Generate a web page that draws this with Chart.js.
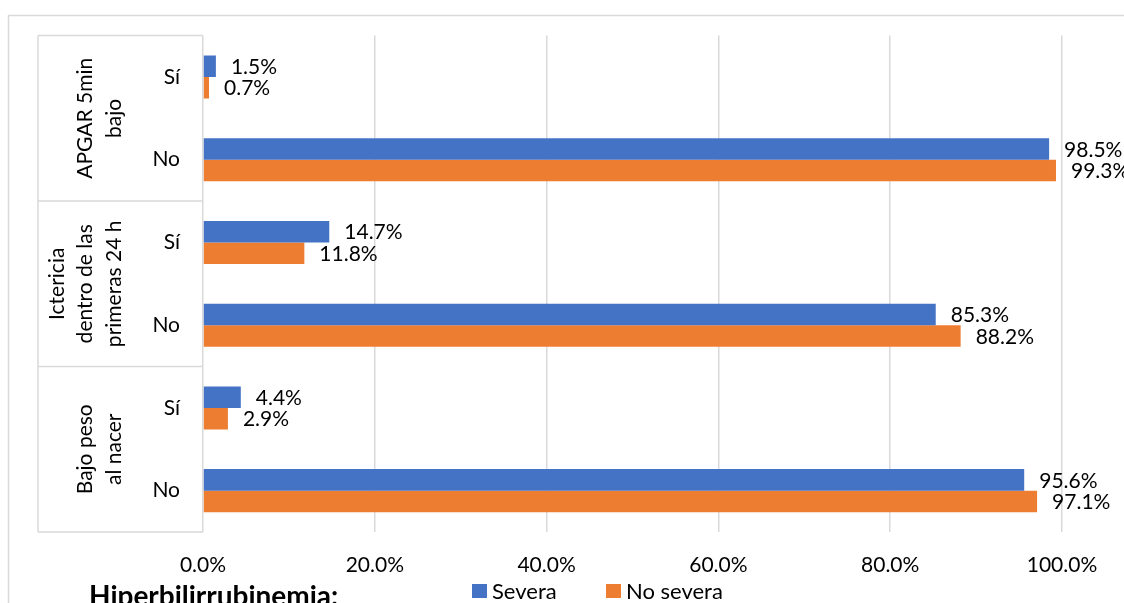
<!DOCTYPE html>
<html lang="es">
<head>
<meta charset="utf-8">
<title>Hiperbilirrubinemia</title>
<script src="https://cdn.jsdelivr.net/npm/chart.js@4/dist/chart.umd.min.js"></script>
<style>
  html, body { margin: 0; padding: 0; background: #ffffff; }
  #wrap { width: 1124px; height: 603px; position: relative; }
</style>
</head>
<body>
<div id="wrap"><canvas id="c" width="1124" height="603"></canvas></div>
<script>
// Sub-categories, top to bottom
const subLabels = ['Sí', 'No', 'Sí', 'No', 'Sí', 'No'];
// Group labels (one entry per pair of sub-categories), split into lines
const groupLines = [
  ['APGAR 5min', 'bajo'],
  ['Ictericia', 'dentro de las', 'primeras 24 h'],
  ['Bajo peso', 'al nacer']
];
// Percentages per series
const severa   = [1.5, 98.5, 14.7, 85.3, 4.4, 95.6];
const noSevera = [0.7, 99.3, 11.8, 88.2, 2.9, 97.1];
const seriesNames = ['Severa', 'No severa'];
const legendTitle = 'Hiperbilirrubinemia:';
const xTicks = [0, 20, 40, 60, 80, 100];

const BLUE = '#4472C4';
const ORANGE = '#ED7D31';
const GRID = '#d9d9d9';
const FONT = 'Lato, "Open Sans", sans-serif';
const FS = 21;

const pct = v => v.toFixed(1) + '%';

// Frame, grouped category box, value labels, legend
const decor = {
  id: 'decor',
  beforeDraw(chart) {
    const ctx = chart.ctx;
    ctx.save();
    ctx.fillStyle = '#ffffff';
    ctx.fillRect(0, 0, chart.width, chart.height);
    ctx.strokeStyle = GRID;
    ctx.lineWidth = 1.5;
    ctx.strokeRect(8.5, 15.5, chart.width + 20, chart.height + 20);
    ctx.restore();
  },
  afterDraw(chart) {
    const ctx = chart.ctx;
    const ys = chart.scales.y;
    const area = chart.chartArea;
    const boxLeft = 38;
    ctx.save();
    // category box lines
    ctx.strokeStyle = GRID;
    ctx.lineWidth = 1.5;
    ctx.beginPath();
    ctx.moveTo(boxLeft, area.top);
    ctx.lineTo(boxLeft, area.bottom);
    const slot = (area.bottom - area.top) / subLabels.length;
    for (let g = 0; g <= groupLines.length; g++) {
      const yy = area.top + g * 2 * slot;
      ctx.moveTo(boxLeft, yy);
      ctx.lineTo(area.left, yy);
    }
    ctx.stroke();

    // rotated group labels
    ctx.fillStyle = '#000000';
    ctx.font = FS + 'px ' + FONT;
    ctx.textAlign = 'center';
    ctx.textBaseline = 'middle';
    const lh = 28.5;
    groupLines.forEach((lines, g) => {
      const cy = (ys.getPixelForValue(2 * g) + ys.getPixelForValue(2 * g + 1)) / 2;
      const lastX = 114;
      lines.forEach((t, i) => {
        const x = lastX - (lines.length - 1 - i) * lh;
        ctx.save();
        ctx.translate(x, cy);
        ctx.rotate(-Math.PI / 2);
        ctx.fillText(t, 0, 0);
        ctx.restore();
      });
    });

    // value labels at the end of each bar
    ctx.textAlign = 'left';
    chart.data.datasets.forEach((ds, di) => {
      const meta = chart.getDatasetMeta(di);
      meta.data.forEach((bar, i) => {
        ctx.fillText(pct(ds.data[i]), bar.x + 15, bar.y + 1);
      });
    });

    // legend
    const ly = 592;
    ctx.font = 'bold 28px ' + FONT;
    ctx.textBaseline = 'alphabetic';
    ctx.fillText(legendTitle, 89, 606);
    ctx.textBaseline = 'middle';
    ctx.font = '22px ' + FONT;
    const items = [{x: 472, c: BLUE}, {x: 606, c: ORANGE}];
    items.forEach((it, i) => {
      ctx.fillStyle = it.c;
      ctx.fillRect(it.x, ly - 8, 15, 14);
      ctx.fillStyle = '#000000';
      ctx.fillText(seriesNames[i], it.x + 20, ly);
    });
    ctx.restore();
  }
};

new Chart(document.getElementById('c'), {
  type: 'bar',
  data: {
    labels: subLabels,
    datasets: [
      { label: seriesNames[0], data: severa, backgroundColor: BLUE, borderWidth: 0 },
      { label: seriesNames[1], data: noSevera, backgroundColor: ORANGE, borderWidth: 0 }
    ]
  },
  options: {
    indexAxis: 'y',
    responsive: false,
    animation: false,
    events: [],
    datasets: { bar: { categoryPercentage: 0.52, barPercentage: 1.0 } },
    layout: { padding: { left: 38, top: 33, right: 62, bottom: 21 } },
    plugins: { legend: { display: false }, tooltip: { enabled: false } },
    scales: {
      x: {
        min: 0, max: 100,
        afterBuildTicks: s => { s.ticks = xTicks.map(v => ({ value: v })); },
        ticks: { callback: v => pct(v), color: '#000000', font: { family: FONT, size: FS }, padding: 21, maxRotation: 0 },
        grid: { color: GRID, lineWidth: 1.5, drawTicks: false },
        border: { display: false },
        afterFit: s => { s.height = 50; }
      },
      y: {
        ticks: { color: '#000000', font: { family: FONT, size: FS }, padding: 23 },
        grid: { display: false, drawTicks: false },
        border: { display: false },
        afterFit: s => { s.width = 165; }
      }
    }
  },
  plugins: [decor]
});
</script>
</body>
</html>
